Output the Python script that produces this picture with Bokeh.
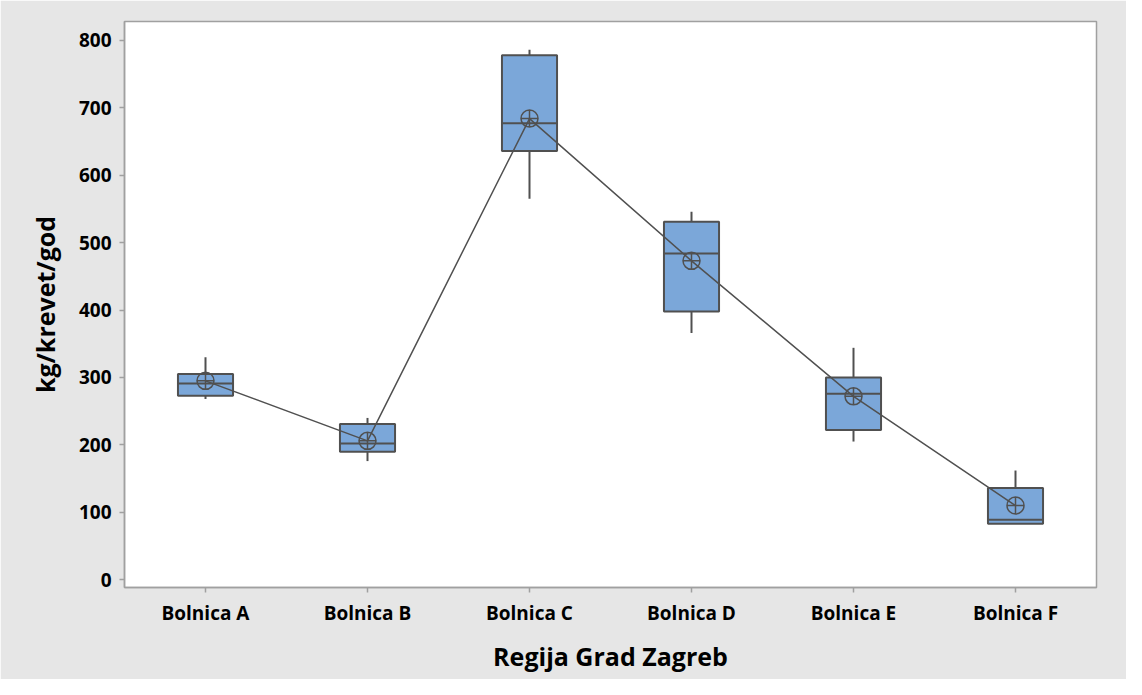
from bokeh.plotting import figure
from bokeh.models import ColumnDataSource, FixedTicker
from bokeh.transform import dodge
from bokeh.embed import file_html
from bokeh.resources import INLINE

hospitals = ["Bolnica A", "Bolnica B", "Bolnica C", "Bolnica D", "Bolnica E", "Bolnica F"]
q1 = [273, 190, 636, 398, 222, 83]
q3 = [305, 231, 778, 531, 300, 136]
median = [291, 202, 677, 484, 276, 89]
mean = [295, 206, 684, 473, 272, 110]
wmin = [268, 176, 565, 366, 205, 83]
wmax = [330, 240, 786, 546, 344, 162]
y_ticks = [0, 100, 200, 300, 400, 500, 600, 700, 800]

src = ColumnDataSource(dict(cat=hospitals, q1=q1, q3=q3, median=median,
                            mean=mean, wmin=wmin, wmax=wmax))

BG = "#E6E6E6"
EDGE = "#505050"
FILL = "#7BA7D9"
AXC = "#A0A0A0"
FONT = "Open Sans"

p = figure(x_range=hospitals, y_range=(-11.5, 828), width=1126, height=679,
           output_backend="svg", toolbar_location=None,
           min_border_left=124, min_border_top=21, min_border_right=30,
           min_border_bottom=92)
p.background_fill_color = "white"
p.border_fill_color = BG
p.outline_line_color = AXC
p.outline_line_width = 1.5
p.xgrid.visible = False
p.ygrid.visible = False

# whiskers
p.segment(x0="cat", x1="cat", y0="q3", y1="wmax", source=src, line_color=EDGE, line_width=2)
p.segment(x0="cat", x1="cat", y0="q1", y1="wmin", source=src, line_color=EDGE, line_width=2)
# boxes
p.vbar(x="cat", width=0.34, bottom="q1", top="q3", source=src,
       fill_color=FILL, line_color=EDGE, line_width=2)
# medians
p.segment(x0=dodge("cat", -0.17, range=p.x_range), x1=dodge("cat", 0.17, range=p.x_range),
          y0="median", y1="median", source=src, line_color=EDGE, line_width=2)
# mean connect line and symbols
p.line(x="cat", y="mean", source=src, line_color=EDGE, line_width=1.5)
p.scatter(x="cat", y="mean", source=src, marker="circle_cross", size=17,
          fill_color=None, line_color=EDGE, line_width=1.5)

p.yaxis.ticker = FixedTicker(ticks=y_ticks)
for ax in (p.xaxis[0], p.yaxis[0]):
    ax.axis_line_color = AXC
    ax.axis_line_width = 1.5
    ax.major_tick_line_color = AXC
    ax.major_tick_line_width = 1.5
    ax.major_tick_out = 5
    ax.major_tick_in = 0
    ax.minor_tick_line_color = None
    ax.major_label_text_font = FONT
    ax.major_label_text_font_style = "bold"
    ax.major_label_text_font_size = "19px"
    ax.major_label_text_color = "black"
    ax.axis_label_text_font = FONT
    ax.axis_label_text_font_style = "bold"
    ax.axis_label_text_font_size = "25px"
    ax.axis_label_text_color = "black"

p.xaxis.axis_label = "Regija Grad Zagreb"
p.yaxis.axis_label = "kg/krevet/god"
p.xaxis.major_label_standoff = 7
p.xaxis.axis_label_standoff = 10
p.yaxis.major_label_standoff = 8
p.yaxis.axis_label_standoff = 14
p.x_range.range_padding = 0

open("out.html", "w").write(file_html(p, INLINE))
